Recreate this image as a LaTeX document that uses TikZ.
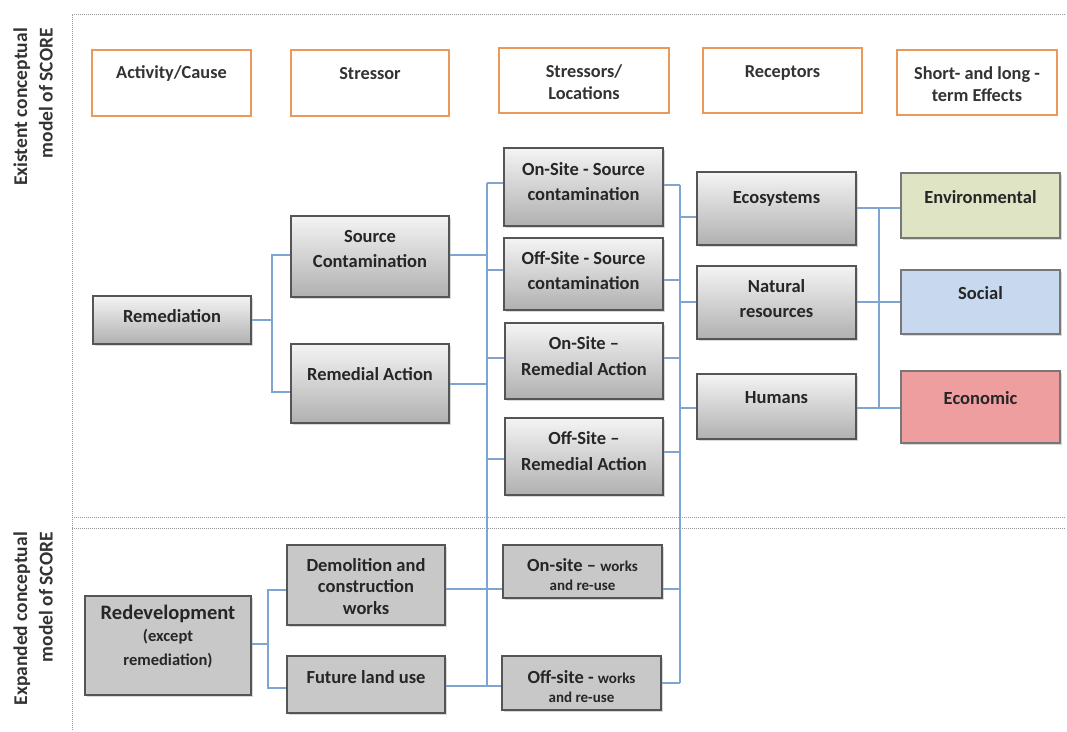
\documentclass[tikz,border=0pt]{standalone}
\usepackage{fontspec}
\setmainfont{Carlito}
\usetikzlibrary{shadows}
\definecolor{orangeB}{RGB}{236,152,90}
\definecolor{boxTop}{RGB}{244,244,244}
\definecolor{boxBot}{RGB}{176,176,176}
\definecolor{boxLine}{RGB}{85,85,85}
\definecolor{flatGray}{RGB}{200,200,200}
\definecolor{connBlue}{RGB}{126,164,210}
\definecolor{envFill}{RGB}{222,228,196}
\definecolor{socFill}{RGB}{200,216,238}
\definecolor{ecoFill}{RGB}{238,158,158}
\definecolor{dotGray}{RGB}{150,150,150}
\begin{document}
\begin{tikzpicture}[x=1pt,y=-1pt,
  hdrbox/.style={draw=orangeB,line width=2.6pt,fill=white,inner sep=0pt},
  gbox/.style={draw=boxLine,line width=1.3pt,top color=boxTop,bottom color=boxBot,inner sep=0pt,
     drop shadow={shadow xshift=1.5pt,shadow yshift=-1.5pt,opacity=0.3}},
  flatbox/.style={draw=boxLine,line width=1.3pt,fill=flatGray,inner sep=0pt,
     drop shadow={shadow xshift=1.5pt,shadow yshift=-1.5pt,opacity=0.3}},
  cbox/.style={draw=boxLine!80,line width=1.3pt,inner sep=0pt,
     drop shadow={shadow xshift=1.5pt,shadow yshift=-1.5pt,opacity=0.3}},
  htxt/.style={inner sep=0pt,align=center,font=\fontsize{18.3}{22}\selectfont\bfseries,text=black!80},
  btxt/.style={inner sep=0pt,align=center,font=\fontsize{18.5}{25.5}\selectfont\bfseries,text=black!85},
  sidetxt/.style={inner sep=0pt,align=right,rotate=90,font=\fontsize{19.5}{25.5}\selectfont\bfseries,text=black!80},
  conn/.style={draw=connBlue,line width=1.4pt},
  frame/.style={draw=dotGray,line width=1pt,dash pattern=on 1pt off 1pt}
]
\useasboundingbox (0,0) rectangle (1067,731);

% dotted frames
\draw[frame] (1065,14) -- (72,14) -- (72,731);
\draw[frame] (72,517) -- (1065,517);
\draw[frame] (72,528) -- (1065,528);

% side labels
\node[sidetxt,anchor=east] (lab1) at (33,28) {Existent conceptual\\model of SCORE};
\node[sidetxt,anchor=east] (lab2) at (33,532) {Expanded conceptual\\model of SCORE};

% header boxes
\node[hdrbox,minimum width=159pt,minimum height=66pt] (h1) at (171.5,83) {};
\node[htxt] (h1t) at (171.5,74) {Activity/Cause};
\node[hdrbox,minimum width=158pt,minimum height=66pt] (h2) at (370,83) {};
\node[htxt] (h2t) at (370,74) {Stressor};
\node[hdrbox,minimum width=170pt,minimum height=65pt] (h3) at (584,80.5) {};
\node[htxt] (h3t) at (584,82.5) {Stressors/\\Locations};
\node[hdrbox,minimum width=159pt,minimum height=65pt] (h4) at (782.5,80.5) {};
\node[htxt] (h4t) at (782.5,73) {Receptors};
\node[hdrbox,minimum width=160pt,minimum height=65pt] (h5) at (977,82.5) {};
\node[htxt] (h5t) at (977,84.5) {Short- and long -\\term Effects};

% gray boxes (existent model)
\node[gbox,minimum width=158pt,minimum height=48pt] (rem) at (172,320) {};
\node[btxt] at (172,316) {Remediation};
\node[gbox,minimum width=158pt,minimum height=81pt] (src) at (370,256.5) {};
\node[btxt] at (370,249) {Source\\Contamination};
\node[gbox,minimum width=158pt,minimum height=79pt] (ra) at (370,383.5) {};
\node[btxt] at (370,374) {Remedial Action};
\node[gbox,minimum width=159pt,minimum height=78pt] (onsrc) at (583.5,187) {};
\node[btxt] at (583.5,181.5) {On-Site - Source\\contamination};
\node[gbox,minimum width=159pt,minimum height=72pt] (offsrc) at (583.5,274) {};
\node[btxt] at (583.5,270.5) {Off-Site - Source\\contamination};
\node[gbox,minimum width=158pt,minimum height=76pt] (onra) at (584,361) {};
\node[btxt] at (584,356) {On-Site --\\Remedial Action};
\node[gbox,minimum width=158pt,minimum height=77pt] (offra) at (584,456.5) {};
\node[btxt] at (584,451) {Off-Site --\\Remedial Action};
\node[gbox,minimum width=159pt,minimum height=73pt] (ecos) at (776.5,208.5) {};
\node[btxt] at (776.5,199) {Ecosystems};
\node[gbox,minimum width=159pt,minimum height=73pt] (nat) at (776.5,302.5) {};
\node[btxt] at (776.5,298.5) {Natural\\resources};
\node[gbox,minimum width=159pt,minimum height=65pt] (hum) at (776.5,406.5) {};
\node[btxt] at (776.5,398) {Humans};
\node[cbox,fill=envFill,minimum width=159pt,minimum height=65pt] (env) at (980.5,205.5) {};
\node[btxt] at (980.5,197) {Environmental};
\node[cbox,fill=socFill,minimum width=159pt,minimum height=64pt] (soc) at (980.5,302) {};
\node[btxt] at (980.5,293) {Social};
\node[cbox,fill=ecoFill,minimum width=159pt,minimum height=72pt] (econ) at (980.5,407) {};
\node[btxt] at (980.5,398) {Economic};

% expanded model
\node[flatbox,minimum width=166pt,minimum height=99pt] (redev) at (168,645.5) {};
\node[btxt] at (168,637) {{\fontsize{20.5}{24}\selectfont Redevelopment}\\[-4pt]{\fontsize{16.5}{21}\selectfont (except}\\[-1pt]{\fontsize{16.5}{21}\selectfont remediation)}};
\node[flatbox,minimum width=158pt,minimum height=80pt] (demo) at (366,585) {};
\node[btxt,font=\fontsize{18.5}{21.5}\selectfont\bfseries] at (366,586.5) {Demolition and\\construction\\works};
\node[flatbox,minimum width=158pt,minimum height=57pt] (fut) at (366,684.5) {};
\node[btxt] at (366,677) {Future land use};
\node[flatbox,minimum width=159pt,minimum height=53pt] (onw) at (582.5,571.5) {};
\node[btxt] at (582.5,574.5) {On-site -- {\fontsize{15}{19}\selectfont works}\\[-6pt]{\fontsize{15}{19}\selectfont and re-use}};
\node[flatbox,minimum width=159pt,minimum height=54pt] (offw) at (581.5,683) {};
\node[btxt] at (581.5,686.5) {Off-site - {\fontsize{15}{19}\selectfont works}\\[-6pt]{\fontsize{15}{19}\selectfont and re-use}};

% connectors: Remediation -> stressors
\coordinate (b1) at (272,0);
\draw[conn] (rem.east) -- (rem.east -| b1);
\draw[conn] (src.west |- 0,255) -- (b1 |- 0,255) -- (b1 |- 0,392) -- (ra.west |- 0,392);

% bus x=487
\coordinate (b2) at (487,0);
\draw[conn] (b2 |- 0,183) -- (b2 |- 0,686);
\draw[conn] (src.east |- 0,255) -- (b2 |- 0,255);
\draw[conn] (ra.east |- 0,384) -- (b2 |- 0,384);
\draw[conn] (onsrc.west |- 0,183) -- (b2 |- 0,183);
\draw[conn] (offsrc.west |- 0,270) -- (b2 |- 0,270);
\draw[conn] (onra.west |- 0,358) -- (b2 |- 0,358);
\draw[conn] (offra.west |- 0,459) -- (b2 |- 0,459);
\draw[conn] (demo.east |- 0,589) -- (onw.west |- 0,589);
\draw[conn] (fut.east |- 0,686) -- (offw.west |- 0,686);

% bus x=680
\coordinate (b3) at (680,0);
\draw[conn] (b3 |- 0,185) -- (b3 |- 0,683);
\draw[conn] (onsrc.east |- 0,185) -- (b3 |- 0,185);
\draw[conn] (offsrc.east |- 0,280) -- (b3 |- 0,280);
\draw[conn] (onra.east |- 0,358) -- (b3 |- 0,358);
\draw[conn] (offra.east |- 0,452) -- (b3 |- 0,452);
\draw[conn] (onw.east |- 0,589) -- (b3 |- 0,589);
\draw[conn] (offw.east |- 0,683) -- (b3 |- 0,683);
\draw[conn] (b3 |- 0,217) -- (ecos.west |- 0,217);
\draw[conn] (b3 |- 0,302) -- (nat.west |- 0,302);
\draw[conn] (b3 |- 0,408) -- (hum.west |- 0,408);

% bus x=879
\coordinate (b4) at (879,0);
\draw[conn] (b4 |- 0,208) -- (b4 |- 0,408);
\draw[conn] (ecos.east |- 0,208) -- (env.west |- 0,208);
\draw[conn] (nat.east |- 0,302) -- (soc.west |- 0,302);
\draw[conn] (hum.east |- 0,408) -- (econ.west |- 0,408);

% bus x=268
\coordinate (b5) at (268,0);
\draw[conn] (redev.east |- 0,644) -- (b5 |- 0,644);
\draw[conn] (demo.west |- 0,590) -- (b5 |- 0,590) -- (b5 |- 0,688) -- (fut.west |- 0,688);
\end{tikzpicture}
\end{document}
